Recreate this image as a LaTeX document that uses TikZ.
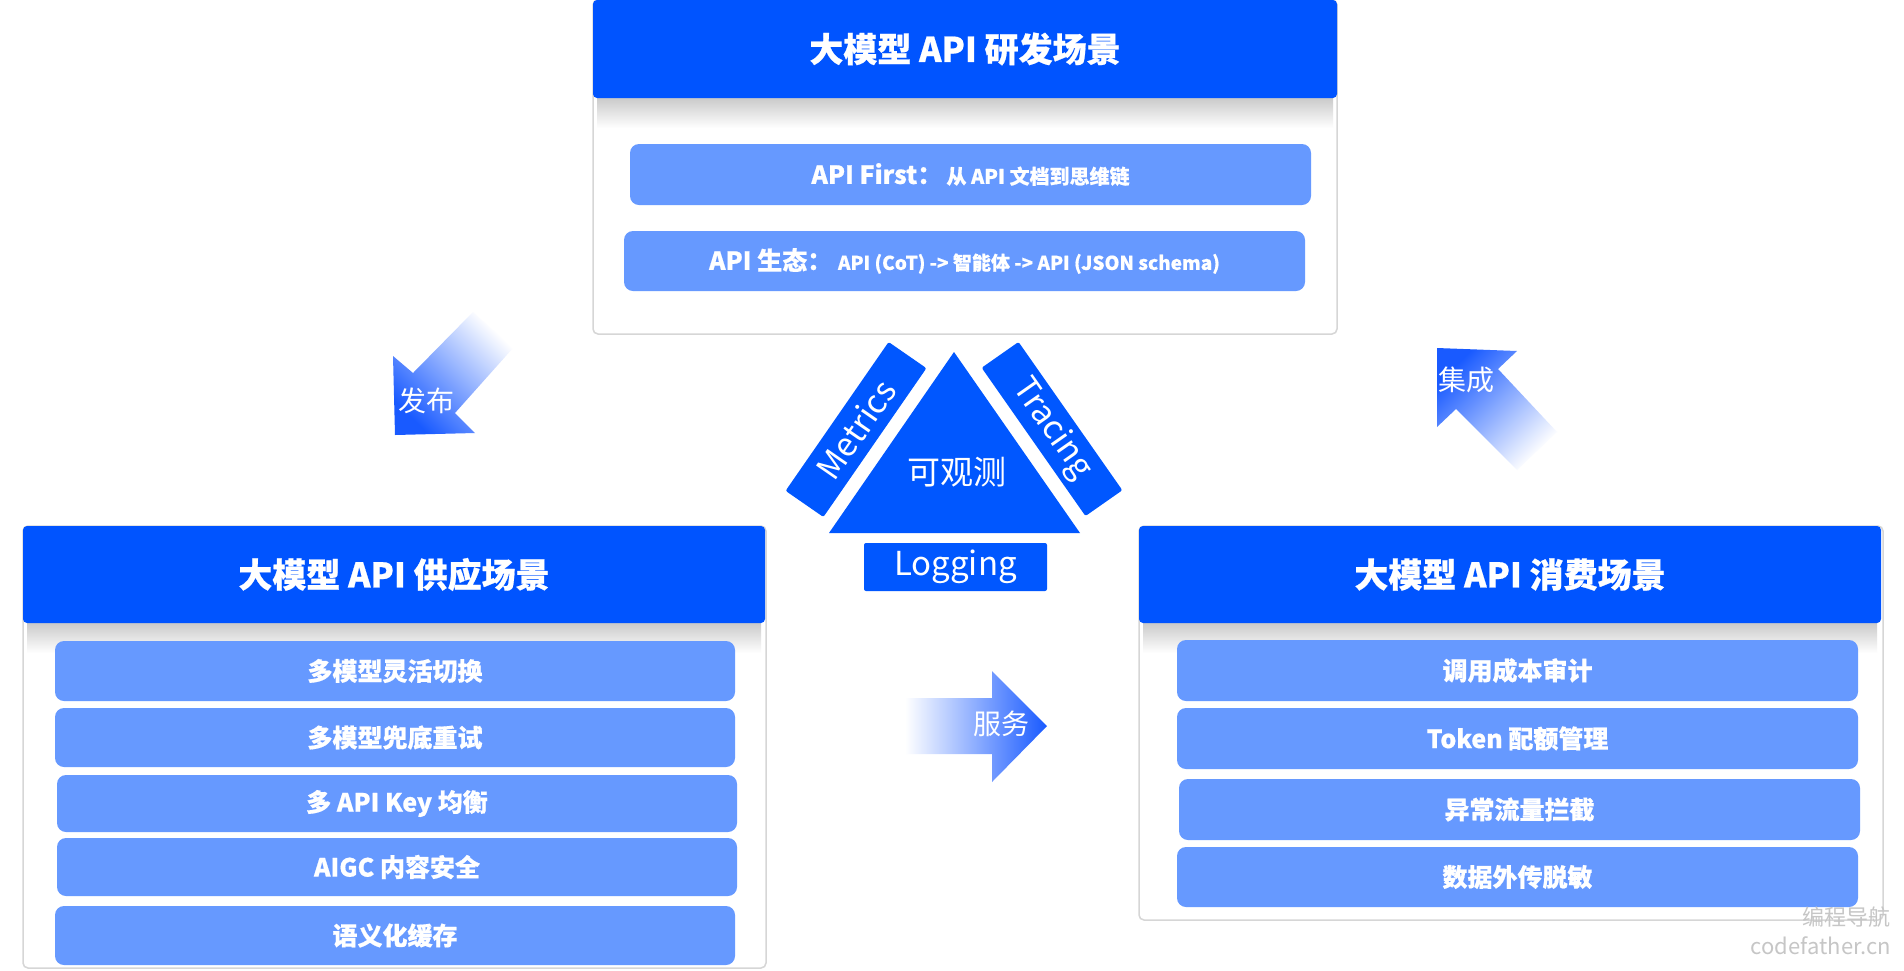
\documentclass[tikz,border=0pt]{standalone}
\usepackage{fontspec}
\setmainfont{Noto Sans CJK SC}[BoldFeatures={FakeBold=0.6}]
\definecolor{hdrblue}{RGB}{0,84,255}
\definecolor{pillblue}{RGB}{102,153,255}
\definecolor{trblue}{RGB}{0,87,255}
\definecolor{arrblue}{RGB}{25,90,255}
\definecolor{framegray}{RGB}{214,214,214}
\tikzset{
  frame/.style={draw=framegray, line width=1.5pt, fill=white, rounded corners=5pt, inner sep=0},
  header/.style={fill=hdrblue, rounded corners=4pt, text=white, inner sep=0,
    font=\fontsize{34}{40}\selectfont\bfseries},
  hshadow/.style={top color=black!22, bottom color=white},
  pill/.style={fill=pillblue, rounded corners=9pt, text=white, inner sep=0,
    font=\fontsize{25}{30}\selectfont\bfseries},
  obs/.style={fill=trblue, text=white, inner sep=0, rounded corners=2pt,
    font=\fontsize{33}{38}\selectfont},
  arrowtxt/.style={text=white, inner sep=0, font=\fontsize{28}{32}\selectfont},
  wmark/.style={text=gray!45, inner sep=0, font=\fontsize{22}{26}\selectfont},
}
\begin{document}
\begin{tikzpicture}[x=1pt,y=-1pt]
\useasboundingbox[fill=white] (0,0) rectangle (1904,970);

% ---------- top panel ----------
\node[frame, minimum width=744, minimum height=334] (topframe) at (965,167) {};
\shade[hshadow] (597,96) rectangle (1333,128);
\node[header, minimum width=744, minimum height=98] (tophdr) at (965,49) {大模型 API 研发场景};
\node[pill, minimum width=681, minimum height=61] (t1) at (970.5,174.5)
  {API First：\,{\fontsize{20}{24}\selectfont 从 API 文档到思维链}};
\node[pill, minimum width=681, minimum height=60] (t2) at (964.5,261)
  {API 生态：\ {\fontsize{19}{24}\selectfont API (CoT) -> 智能体 -> API (JSON schema)}};

% ---------- left panel ----------
\node[frame, minimum width=743, minimum height=442] (leftframe) at (394.5,747) {};
\shade[hshadow] (27,621) rectangle (761,653);
\node[header, minimum width=742, minimum height=97] (lefthdr) at (394,574.5) {大模型 API 供应场景};
\node[pill, minimum width=680, minimum height=60] (l1) at (395,671) {多模型灵活切换};
\node[pill, minimum width=680, minimum height=59] (l2) at (395,737.5) {多模型兜底重试};
\node[pill, minimum width=680, minimum height=57] (l3) at (397,803.5) {多 API Key 均衡};
\node[pill, minimum width=680, minimum height=58] (l4) at (397,867) {AIGC 内容安全};
\node[pill, minimum width=680, minimum height=59] (l5) at (395,935.5) {语义化缓存};

% ---------- right panel ----------
\node[frame, minimum width=744, minimum height=394] (rightframe) at (1511,723) {};
\shade[hshadow] (1143,621) rectangle (1877,653);
\node[header, minimum width=742, minimum height=97] (righthdr) at (1510,574.5) {大模型 API 消费场景};
\node[pill, minimum width=681, minimum height=61] (r1) at (1517.5,670.5) {调用成本审计};
\node[pill, minimum width=681, minimum height=61] (r2) at (1517.5,738.5) {Token 配额管理};
\node[pill, minimum width=681, minimum height=61] (r3) at (1519.5,809.5) {异常流量拦截};
\node[pill, minimum width=681, minimum height=60] (r4) at (1517.5,877) {数据外传脱敏};

% ---------- observability ----------
\fill[trblue] (829,533) -- (954,352) -- (1080,533) -- cycle;
\node[text=white, inner sep=0, font=\fontsize{33}{38}\selectfont] (obslabel) at (957,472) {可观测};
\node[obs, minimum width=181, minimum height=46, rotate=55.3] (metrics) at (856,429.5) {Metrics};
\node[obs, minimum width=181, minimum height=45, rotate=-55] (tracing) at (1052,429) {Tracing};
\node[obs, minimum width=183, minimum height=48] (logging) at (955.5,567) {Logging};

% ---------- arrows ----------
% 发布 (down-left)
\path[top color=white, bottom color=arrblue, shading angle=-45]
  (395,435) -- (393,356) -- (413,373) -- (473,312) -- (513,348) -- (455,413) -- (475,433) -- cycle;
\node[arrowtxt] (fabu) at (426,401) {发布};
% 集成 (up-left)
\path[top color=arrblue, bottom color=white, shading angle=45]
  (1437,348) -- (1517,351) -- (1498,369) -- (1557,432) -- (1517,470) -- (1456,409) -- (1437,427) -- cycle;
\node[arrowtxt] (jicheng) at (1466,380) {集成};
% 服务 (right)
\path[left color=white, right color=arrblue]
  (905,698) -- (992,698) -- (992,671) -- (1047,726) -- (992,782) -- (992,754) -- (905,754) -- cycle;
\node[arrowtxt] (fuwu) at (1001,724) {服务};

% ---------- watermark ----------
\node[wmark, anchor=east] (wm1) at (1891,917) {编程导航};
\node[wmark, anchor=east] (wm2) at (1891,946) {codefather.cn};
\end{tikzpicture}
\end{document}
